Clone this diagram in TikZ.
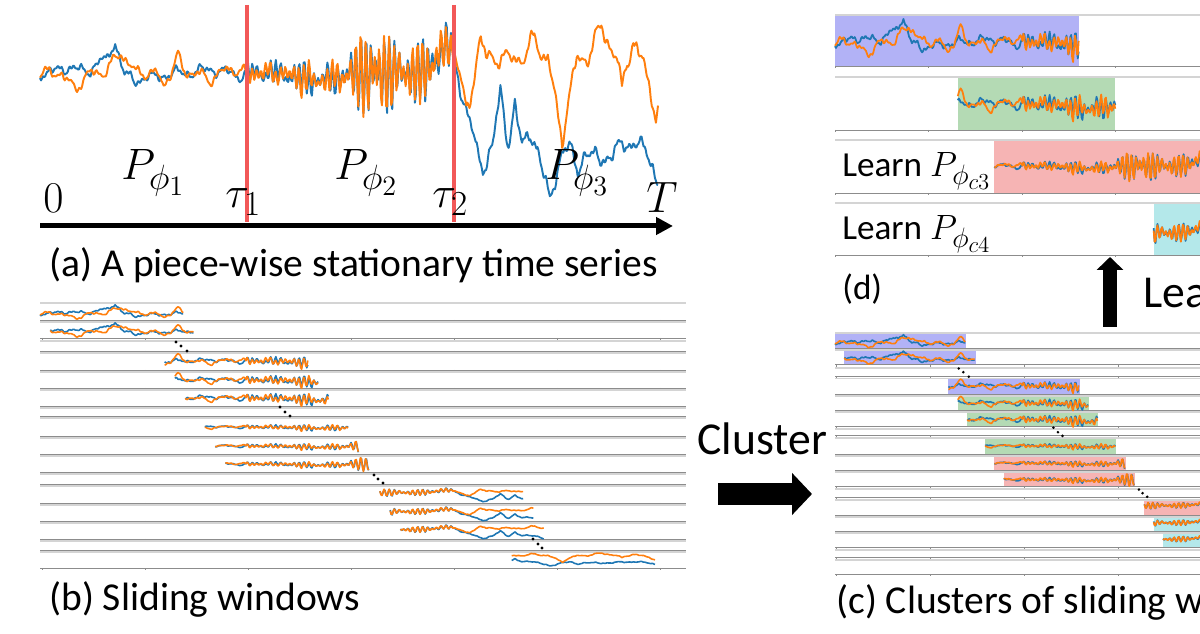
\documentclass[tikz,border=0pt]{standalone}
\usepackage{fix-cm}
\usepackage[no-math]{fontspec}
\setmainfont{Carlito}
\usetikzlibrary{arrows.meta}
\DeclareMathSizes{25}{25}{20}{16}
\DeclareMathSizes{20}{20}{16}{13}

\definecolor{serblue}{RGB}{31,119,180}
\definecolor{serorange}{RGB}{255,127,14}
\definecolor{cutred}{RGB}{242,88,88}
\definecolor{clblue}{RGB}{178,178,246}
\definecolor{clgreen}{RGB}{180,218,180}
\definecolor{clred}{RGB}{246,180,180}
\definecolor{clcyan}{RGB}{180,232,234}

% shape of the two series, t from 0 to 600, offsets in px (down is positive)
\tikzset{declare function={
  wig(\tm,\per)=sin(360*mod(\tm,\per)/\per);
  tent(\tm,\ctr,\wid)=max(0,1-abs(\tm-\ctr)/\wid);
  noiseb(\tm)=1.2*wig(\tm,3.7)+1.2*wig(\tm+1.3,6.1)+2.5*wig(\tm+0.7,11.3)+3.5*wig(\tm+4,23.9);
  noiseo(\tm)=1.2*wig(\tm+2,4.1)+1.2*wig(\tm+0.4,5.7)+2.5*wig(\tm+3,12.7)+3.5*wig(\tm+9,21.3);
  burst(\tm)=10+8*tent(\tm,262,30)+45*tent(\tm,325,40)+30*tent(\tm,375,30);
  drift(\tm)=8*tent(\tm,270,40)-28*tent(\tm,395,22);
  oneb(\tm)=-6*tent(\tm,28,20)-14*tent(\tm,60,15)-30*tent(\tm,73,9)+8*tent(\tm,92,12)
    +5*tent(\tm,110,20)-4*tent(\tm,165,20)+3*tent(\tm,195,10);
  oneo(\tm)=16*tent(\tm,34,14)-20*tent(\tm,78,16)+14*tent(\tm,120,6)-17*tent(\tm,134,7)
    +7*tent(\tm,165,12)-4*tent(\tm,185,15);
  threeb(\tm)=75*min(1,(\tm-400)/25)+20*tent(\tm,430,8)-55*tent(\tm,447,8)-45*tent(\tm,461,7)
    -15*tent(\tm,476,8)+55*tent(\tm,495,12)+25*tent(\tm,522,8)+15*tent(\tm,544,15)
    -10*tent(\tm,578,8)+30*tent(\tm,599,14);
  threeo(\tm)=-15*min(1,max(0,(\tm-418)/8))+45*tent(\tm,414,9)-20*tent(\tm,428,5)
    -25*tent(\tm,480,8)+80*tent(\tm,507,14)-35*tent(\tm,545,12)+30*tent(\tm,565,5)
    -15*tent(\tm,576,5)+60*tent(\tm,598,12);
}}

% values kept once per time step
\newcommand{\keepval}[2]{\expandafter\xdef\csname #1#2\endcsname{\pgfmathresult}}
\newcommand{\blv}[1]{\csname blv#1\endcsname}
\newcommand{\orv}[1]{\csname orv#1\endcsname}

\foreach \i in {0,...,200}{%
  \pgfmathparse{oneb(\i)+noiseb(\i)}\keepval{blv}{\i}%
  \pgfmathparse{oneo(\i)+noiseo(\i)}\keepval{orv}{\i}%
}
\foreach \i in {201,...,400}{%
  \pgfmathsetmacro\amp{burst(\i)}%
  \pgfmathsetmacro\dr{drift(\i)}%
  \pgfmathparse{\dr+\amp*(0.6*wig(\i,4.6)+0.4*wig(\i+0.5,5.5))+noiseb(\i)}\keepval{blv}{\i}%
  \pgfmathparse{\dr+\amp*(0.6*wig(\i+0.25,4.6)+0.4*wig(\i+0.7,5.5))+noiseo(\i)}\keepval{orv}{\i}%
}
\foreach \i in {401,...,600}{%
  \pgfmathsetmacro\dr{drift(\i)}%
  \pgfmathparse{\dr+threeb(\i)+1.5*noiseb(\i)}\keepval{blv}{\i}%
  \pgfmathparse{\dr+threeo(\i)+1.5*noiseo(\i)}\keepval{orv}{\i}%
}

% rows of sliding windows, drawn in the frame of panel (b)
\newcommand{\slidingpanel}{%
  \foreach \tp/\ax in {303/320,322/338,341/351,353/370,372/388,390/406,408/416,418/436,
                       438/454,456/472,474/484,486/503,505/521,523/539,541/550,552/568}{
    \draw[topline] (40,\tp) -- (686,\tp);
    \draw[axisline] (40,\ax) -- (686,\ax);
    \foreach \tk in {42,145,248,351,454,557,660}
      \draw[axisline] (\tk,\ax) -- ({\tk},{\ax+2});
  }
  \foreach \ts/\yc/\sc/\md in {0/312/0.3/-5,10/330/0.3/-5,121/361/0.33/0,131/380/0.33/0,
                               141/398/0.33/0,160/427/0.17/0,170/446/0.17/0,180/464/0.17/0,
                               330/494/0.09/16,340/513/0.09/16,350/531/0.09/16,458/560/0.075/45}{
    \pgfmathtruncatemacro\te{\ts+139}
    \draw[winline,serblue] ({40+1.03*\ts},{\yc+\sc*(\blv{\ts}-(\md))})
      \foreach \i in {\ts,...,\te}{ -- ({40+1.03*\i},{\yc+\sc*(\blv{\i}-(\md))}) };
    \draw[winline,serorange] ({40+1.03*\ts},{\yc+\sc*(\orv{\ts}-(\md))})
      \foreach \i in {\ts,...,\te}{ -- ({40+1.03*\i},{\yc+\sc*(\orv{\i}-(\md))}) };
  }
  \foreach \dx/\dy in {176/342,181/346,187/351,280/407,285/412,290/416,
                       374/475,378/479,383/483,533/539,538/544,542/548}
    \fill (\dx,\dy) circle (1.6);
}

\begin{document}
\begin{tikzpicture}[x=0.02cm,y=-0.02cm,
  serline/.style={line width=1.1pt,line join=round},
  winline/.style={line width=0.9pt,line join=round},
  dline/.style={line width=1pt,line join=round},
  topline/.style={draw=black!17,line width=1.1pt},
  axisline/.style={draw=black!45,line width=0.5pt},
  cutline/.style={draw=cutred,line width=2.2pt},
  timeaxis/.style={line width=0.1cm,-{Triangle[length=0.34cm,width=0.34cm]}},
  bigarrow/.style={line width=0.44cm,-{Triangle[length=0.4cm,width=0.82cm]}},
  learnarrow/.style={line width=0.28cm,-{Triangle[length=0.26cm,width=0.52cm]}},
  mathlab/.style={inner sep=0pt,anchor=base west,font=\fontsize{25}{30}\selectfont},
  panelcap/.style={inner sep=0pt,anchor=base west,font=\fontsize{22.5}{27}\selectfont},
  rowlab/.style={inner sep=0pt,anchor=base west,font=\fontsize{20}{24}\selectfont},
  bigword/.style={inner sep=0pt,anchor=base west,font=\fontsize{26}{31}\selectfont}]

\clip (0,0) rectangle (1200,634);

% (a) the whole series
\draw[serline,serblue] (40,{73+\blv{0}})
  \foreach \i in {1,...,600}{ -- ({40+1.03*\i},{73+\blv{\i}}) };
\draw[serline,serorange] (40,{73+\orv{0}})
  \foreach \i in {1,...,600}{ -- ({40+1.03*\i},{73+\orv{\i}}) };

\coordinate (cuttop1) at (247,5);
\coordinate (cutfoot1) at (247,222);
\coordinate (cuttop2) at (454,5);
\coordinate (cutfoot2) at (454,222);
\draw[cutline] (cuttop1) -- (cutfoot1);
\draw[cutline] (cuttop2) -- (cutfoot2);

\coordinate (tzero) at (40,226);
\coordinate (tend) at (673,226);
\draw[timeaxis] (tzero) -- (tend);

\node[mathlab] (zero) at (43,213) {$0$};
\node[mathlab] (pone) at (121,180) {$P_{\phi_1}$};
\node[mathlab] (tauone) at (225,208) {$\tau_1$};
\node[mathlab] (ptwo) at (334,180) {$P_{\phi_2}$};
\node[mathlab] (tautwo) at (432,208) {$\tau_2$};
\node[mathlab] (pthree) at (545,180) {$P_{\phi_3}$};
\node[mathlab] (tlab) at (646,213) {$T$};

\node[panelcap] (capa) at (49,277) {(a) A piece-wise stationary time series};

% (b) sliding windows
\slidingpanel
\node[panelcap] (capb) at (49,610) {(b) Sliding windows};

% (c) same windows, coloured by cluster
\begin{scope}[shift={(798.6,57.3)},scale=0.91]
\foreach \ts/\tp/\ax/\cl in {0/303/320/clblue,10/322/338/clblue,121/353/370/clblue,
                             131/372/388/clgreen,141/390/406/clgreen,160/418/436/clgreen,
                             170/438/454/clred,180/456/472/clred,330/486/503/clred,
                             340/505/521/clcyan,350/523/539/clcyan,458/552/568/clcyan}
  \fill[\cl] ({40+1.03*\ts},\tp) rectangle ({41+1.03*(\ts+139)},\ax);
\slidingpanel
\end{scope}
\node[panelcap] (capc) at (836,613) {(c) Clusters of sliding windows};

\node[bigword] (clusterword) at (697,455) {Cluster};
\coordinate (clfoot) at (718,494);
\coordinate (cltip) at (812,494);
\draw[bigarrow] (clfoot) -- (cltip);

% (d) one model per cluster
\foreach \ts/\te/\tp/\ax/\cl in {0/260/15/66/clblue,131/299/77/130/clgreen,
                                 170/460/140/193/clred,340/460/203/255/clcyan}
  \fill[\cl] ({835+0.9373*\ts},\tp) rectangle ({835+0.9373*\te},\ax);
\foreach \tp/\ax in {15/66,77/130,140/193,203/255}{
  \draw[topline] (835,\tp) -- (1200,\tp);
  \draw[axisline] (835,\ax) -- (1200,\ax);
  \foreach \tk in {835,928,1022,1115}
    \draw[axisline] (\tk,\ax) -- ({\tk},{\ax+2});
}
\foreach \ts/\te/\yc/\sc/\md in {0/260/42/0.8/0,131/299/104/0.7/0,
                                 170/400/166/0.35/0,340/400/229/0.28/-14}{
  \draw[dline,serblue] ({835+0.9373*\ts},{\yc+\sc*(\blv{\ts}-(\md))})
    \foreach \i in {\ts,...,\te}{ -- ({835+0.9373*\i},{\yc+\sc*(\blv{\i}-(\md))}) };
  \draw[dline,serorange] ({835+0.9373*\ts},{\yc+\sc*(\orv{\ts}-(\md))})
    \foreach \i in {\ts,...,\te}{ -- ({835+0.9373*\i},{\yc+\sc*(\orv{\i}-(\md))}) };
}
\node[rowlab] (learnthree) at (842,177) {Learn $P_{\phi_{c3}}$};
\node[rowlab] (learnfour) at (842,240) {Learn $P_{\phi_{c4}}$};
\node[rowlab] (capd) at (842,300) {(d)};

\coordinate (lnfoot) at (1110,327);
\coordinate (lntip) at (1110,257);
\draw[learnarrow] (lnfoot) -- (lntip);
\node[bigword] (learnword) at (1143,308) {Learn};

\end{tikzpicture}
\end{document}
